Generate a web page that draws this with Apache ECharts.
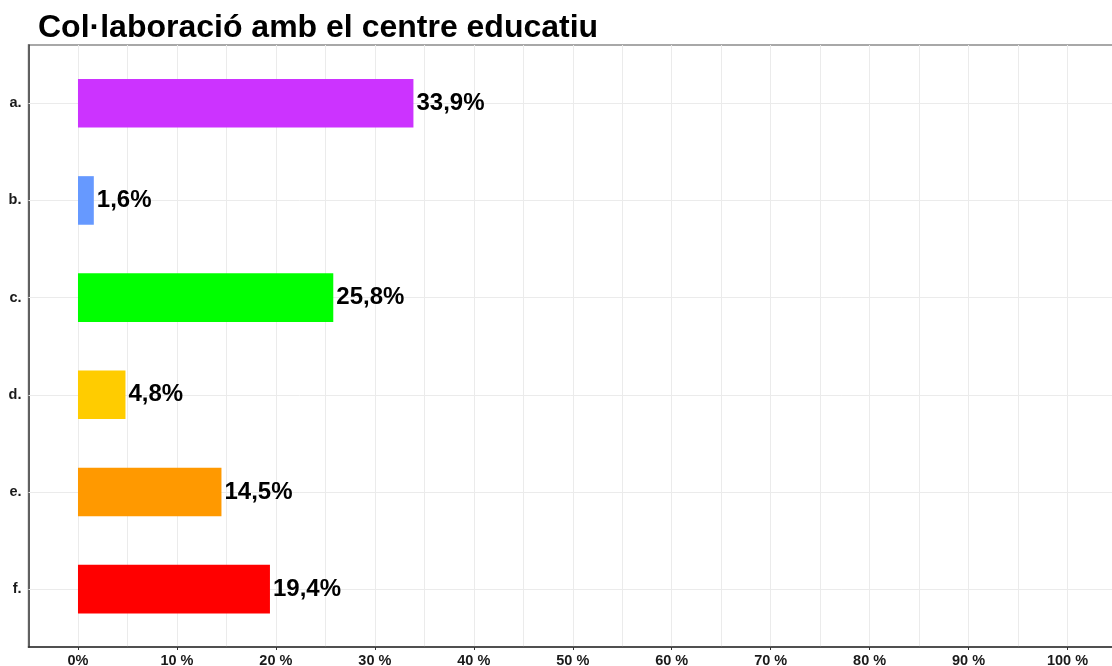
<!DOCTYPE html>
<html>
<head>
<meta charset="utf-8">
<script src="https://cdn.jsdelivr.net/npm/echarts@6/dist/echarts.min.js"></script>
<style>
  html, body { margin: 0; padding: 0; background: #ffffff; }
  #chart { width: 1112px; height: 666px; }
</style>
</head>
<body>
<div id="chart"></div>
<script>
// Response categories, shares (%) and bar colours
const categories = ['a.', 'b.', 'c.', 'd.', 'e.', 'f.'];
const shares = [33.9, 1.6, 25.8, 4.8, 14.5, 19.4];
const barColors = ['#CC33FF', '#6699FF', '#00FF00', '#FFCC00', '#FF9900', '#FF0000'];
const titleText = 'Col·laboració amb el centre educatiu';
// Labelled ticks on the percentage axis
const xTickValues = [0, 10, 20, 30, 40, 50, 60, 70, 80, 90, 100];

const FONT = '"Liberation Sans", Arial, sans-serif';
const fmtPct = v => v.toFixed(1).replace('.', ',') + '%';
const fmtTick = v => (v === 0 ? '0%' : v + ' %');

const chart = echarts.init(document.getElementById('chart'), null, { renderer: 'canvas' });

// The panel runs slightly past the right edge of the canvas
const panel = { left: 28.5, width: 1088.5, top: 45, bottom: 19 };
const band = { left: 28.5, width: 1088.5, top: 54.7, bottom: 28.3 };

chart.setOption({
  animation: false,
  backgroundColor: '#ffffff',
  title: {
    text: titleText,
    left: 33,
    top: 7,
    textStyle: { fontFamily: FONT, fontSize: 32, fontWeight: 'bold', color: '#000000' }
  },
  grid: [
    // panel frame: vertical grid lines, axis lines and percentage labels
    Object.assign({ show: true, borderColor: '#8c8c8c', borderWidth: 1.5, backgroundColor: 'transparent',
      containLabel: false, outerBoundsMode: 'none' }, panel),
    // category bands holding the bars
    Object.assign({ show: false, containLabel: false, outerBoundsMode: 'none' }, band)
  ],
  xAxis: [
    {
      // bottom axis: line, ticks and percentage labels
      gridIndex: 0, type: 'value', min: -5, max: 105, interval: 5,
      axisLine: { show: true, onZero: false, lineStyle: { color: '#333333', width: 1.5 } },
      axisTick: {
        show: true, length: 3, lineStyle: { color: '#333333', width: 1 },
        customValues: xTickValues
      },
      splitLine: { show: false },
      axisLabel: {
        margin: 6,
        fontFamily: FONT, fontSize: 14.5, fontWeight: 'bold', color: '#1a1a1a',
        customValues: xTickValues,
        formatter: v => fmtTick(v)
      }
    },
    {
      gridIndex: 1, type: 'value', min: -5, max: 105,
      show: false, splitLine: { show: false }
    },
    {
      // vertical grid lines every 5 %
      gridIndex: 0, type: 'value', min: -5, max: 105, interval: 5, position: 'top',
      axisLine: { show: false }, axisTick: { show: false }, axisLabel: { show: false },
      splitLine: { show: true, lineStyle: { color: '#ebebeb', width: 1 } }
    }
  ],
  yAxis: [
    {
      gridIndex: 0, type: 'value', min: 0, max: 1,
      axisLine: { show: true, onZero: false, lineStyle: { color: '#333333', width: 1.5 } },
      axisTick: { show: false }, axisLabel: { show: false }, splitLine: { show: false }
    },
    {
      // category labels with short outward ticks
      gridIndex: 1, type: 'category', data: categories, inverse: true,
      axisLine: { show: false },
      axisTick: { show: true, alignWithLabel: true, length: 4, lineStyle: { color: '#333333', width: 1 } },
      axisLabel: { margin: 7, fontFamily: FONT, fontSize: 14.5, fontWeight: 'bold', color: '#1a1a1a' },
      splitLine: { show: false }
    },
    {
      // horizontal grid lines through each category centre
      gridIndex: 1, type: 'category', data: categories, inverse: true, position: 'left',
      axisLine: { show: false },
      axisTick: { show: true, inside: true, alignWithLabel: true, length: 1100, lineStyle: { color: '#ebebeb', width: 1 } },
      axisLabel: { show: false },
      splitLine: { show: false }
    }
  ],
  series: [
    {
      type: 'bar',
      xAxisIndex: 1,
      yAxisIndex: 1,
      barWidth: '50%',
      data: shares.map((v, i) => ({ value: v, itemStyle: { color: barColors[i] } })),
      label: {
        show: true,
        position: 'right',
        distance: 3,
        fontFamily: FONT, fontSize: 24, fontWeight: 'bold', color: '#000000',
        formatter: p => fmtPct(p.value)
      }
    }
  ]
});
</script>
</body>
</html>
